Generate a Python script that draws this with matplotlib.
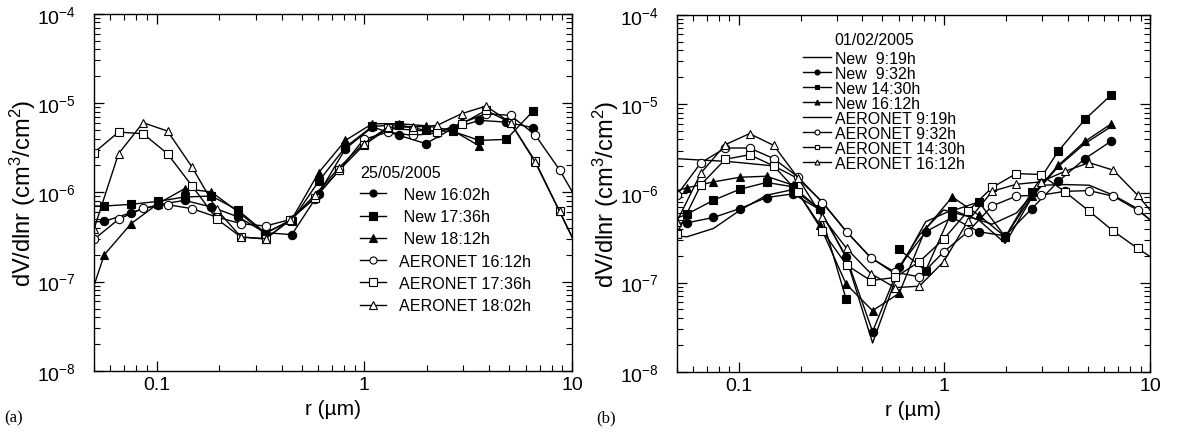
import numpy as np
import matplotlib
matplotlib.use("Agg")
import matplotlib.pyplot as plt
import matplotlib.ticker as mticker

plt.rcParams['font.family'] = ['Liberation Sans', 'DejaVu Sans']
plt.rcParams['mathtext.fontset'] = 'custom'
plt.rcParams['mathtext.rm'] = 'Liberation Sans'
plt.rcParams['mathtext.it'] = 'Liberation Sans:italic'
plt.rcParams['axes.unicode_minus'] = False

# radii (um)
r_aeronet = [0.05, 0.0656, 0.0861, 0.1129, 0.1482, 0.1944, 0.2551, 0.3347, 0.4392, 0.5763,
             0.7562, 0.9923, 1.302, 1.708, 2.241, 2.941, 3.859, 5.064, 6.644, 8.718, 11.44]
r_new = [0.042, 0.056, 0.0754, 0.1015, 0.1366, 0.1838, 0.2474, 0.333, 0.448, 0.603, 0.812,
         1.093, 1.471, 1.98, 2.666, 3.588, 4.83, 6.5]

# ---- panel (a) 25/05/2005 ----
a_new_1602 = [4.6e-7, 4.73e-7, 5.92e-7, 7.28e-7, 8.13e-7, 6.85e-7, 5.3e-7, 3.54e-7, 3.36e-7, 9.66e-7,
              3.08e-6, 5.38e-6, 4.35e-6, 3.51e-6, 5.2e-6, 6.4e-6, 6.12e-6, 5.3e-6]
a_new_1736 = [7.0e-7, 7.03e-7, 7.34e-7, 7.93e-7, 8.87e-7, 9.1e-7, 6.29e-7, 3.54e-7, 4.8e-7, 1.33e-6,
              3.21e-6, 5.48e-6, 5.71e-6, 4.94e-6, 4.82e-6, 3.82e-6, 3.92e-6, 8.13e-6]
a_new_1812 = [2.7e-8, 2.0e-7, 4.46e-7, 7.46e-7, 1.1e-6, 1.01e-6, 6.03e-7, 3.44e-7, 5.0e-7, 1.66e-6,
              3.82e-6, 5.87e-6, 5.87e-6, 5.57e-6, 4.94e-6, 3.30e-6, np.nan, np.nan]
a_aer_1612 = [2.98e-7, 4.99e-7, 6.68e-7, 7.28e-7, 6.57e-7, 5.3e-7, 4.46e-7, 4.2e-7, 4.95e-7, 8.5e-7,
              1.76e-6, 3.92e-6, 4.73e-6, 4.35e-6, 4.61e-6, 5.97e-6, 7.6e-6, 7.28e-6, 4.42e-6,
              1.79e-6, 6.0e-7]
a_aer_1736 = [2.78e-6, 4.73e-6, 4.54e-6, 2.71e-6, 1.18e-6, 5.07e-7, 3.16e-7, 3.0e-7, 4.9e-7, 8.7e-7,
              1.76e-6, 3.36e-6, 5.2e-6, 5.0e-6, 4.73e-6, 5.87e-6, 8.28e-6, 6.03e-6, 2.25e-6,
              6.13e-7, 1.7e-7]
a_aer_1802 = [3.9e-7, 2.71e-6, 6.03e-6, 4.86e-6, 1.92e-6, 6.46e-7, 3.16e-7, 3.03e-7, 4.86e-7, 9.25e-7,
              1.89e-6, 3.51e-6, 5.38e-6, 5.38e-6, 5.62e-6, 7.6e-6, 9.25e-6, 6.03e-6, 2.19e-6,
              6.13e-7, 1.66e-7]

# ---- panel (b) 01/02/2005 ----
b_new_0919 = [3.4e-7, 3.25e-7, 4.03e-7, 6.45e-7, 9.5e-7, 1.1e-6, 6.7e-7, 1.9e-7, 2.1e-8, 1.4e-7,
              4.8e-7, 6.5e-7, 5.0e-7, 2.74e-7, 9.0e-7, 2.0e-6, 3.6e-6, 5.6e-6]
b_new_0932 = [4.6e-7, 4.66e-7, 5.35e-7, 6.74e-7, 8.95e-7, 9.84e-7, 6.58e-7, 1.95e-7, 2.82e-8, 1.50e-7,
              3.70e-7, 5.35e-7, 3.70e-7, 3.33e-7, 6.74e-7, 1.36e-6, 2.44e-6, 3.85e-6]
b_new_1430 = [4.5e-7, 5.82e-7, 8.35e-7, 1.11e-6, 1.32e-6, 1.18e-6, 6.62e-7, 6.55e-8, np.nan, 2.35e-7,
              1.36e-7, 6.35e-7, 8.0e-7, 3.25e-7, 1.04e-6, 2.97e-6, 6.71e-6, 1.27e-5]
b_new_1612 = [9.5e-7, 1.15e-6, 1.34e-6, 1.51e-6, 1.55e-6, 1.23e-6, 4.46e-7, 9.6e-8, 4.84e-8, 7.57e-8,
              4.0e-7, 9.1e-7, 5.68e-7, 3.25e-7, 9.33e-7, 2.06e-6, 3.81e-6, 6.0e-6]
b_aer_0919 = [2.44e-6, 2.35e-6, 2.28e-6, 2.15e-6, 2.02e-6, 1.46e-6, 8.0e-7, 3.7e-7, 1.9e-7, 1.25e-7,
              3.4e-7, 6.5e-7, 5.5e-7, 4.5e-7, 6.0e-7, 1.23e-6, 1.25e-6, 1.23e-6, 9.5e-7, 6.7e-7, 3.8e-7]
b_aer_0932 = [9.5e-7, 2.2e-6, 3.21e-6, 3.21e-6, 2.44e-6, 1.52e-6, 7.87e-7, 3.7e-7, 1.89e-7, 1.3e-7,
              1.16e-7, 2.2e-7, 3.7e-7, 7.2e-7, 9.3e-7, 9.5e-7, 1.05e-6, 1.07e-6, 9.25e-7, 6.45e-7, 4.0e-7]
b_aer_1430 = [3.5e-7, 1.25e-6, 2.4e-6, 2.7e-6, 2.02e-6, 1.02e-6, 3.8e-7, 1.57e-7, 1.05e-7, 1.14e-7,
              1.71e-7, 3.06e-7, 6.3e-7, 1.16e-6, 1.66e-6, 1.62e-6, 1.04e-6, 6.3e-7, 3.76e-7, 2.41e-7, 1.6e-7]
b_aer_1612 = [4.8e-7, 1.69e-6, 3.5e-6, 4.65e-6, 3.43e-6, 1.48e-6, 5.45e-7, 2.41e-7, 1.26e-7, 8.75e-8,
              9.1e-8, 1.71e-7, 4.86e-7, 1.05e-6, 1.26e-6, 1.34e-6, 1.76e-6, 2.2e-6, 1.81e-6, 9.5e-7, 4.5e-7]


def setup(ax):
    ax.set_xscale('log')
    ax.set_yscale('log')
    ax.set_xlim(0.05, 10)
    ax.set_ylim(1e-8, 1e-4)
    ax.xaxis.set_major_formatter(mticker.FuncFormatter(lambda v, _: f'{v:g}'))
    ax.xaxis.set_minor_formatter(mticker.NullFormatter())
    ax.yaxis.set_major_locator(mticker.LogLocator(base=10, numticks=10))
    ax.yaxis.set_minor_locator(mticker.LogLocator(base=10, subs=np.arange(2, 10), numticks=20))
    ax.yaxis.set_minor_formatter(mticker.NullFormatter())
    ax.tick_params(which='both', direction='in', top=True, right=True, labelsize=14)
    ax.tick_params(which='major', length=7, width=0.9)
    ax.tick_params(which='minor', length=4, width=0.8)
    ax.tick_params(axis='y', which='major', pad=13)
    ax.tick_params(axis='x', which='major', pad=4)
    for s in ax.spines.values():
        s.set_linewidth(1.0)
    ax.set_xlabel('r (\u00b5m)', fontsize=15, labelpad=4)
    ax.set_ylabel('dV/dlnr (cm$^3$/cm$^2$)', fontsize=17, labelpad=-1)


def line(ax, x, y, marker=None, filled=True, label=None):
    ax.plot(x, y, color='black', lw=1.0, marker=marker, ms=6 if marker else 0,
            mfc='black' if filled else 'white', mec='black', mew=0.8, label=label)


fig = plt.figure(figsize=(11.77, 4.35), dpi=100)
ax1 = fig.add_axes([0.0799, 0.145, 0.406, 0.821])
ax2 = fig.add_axes([0.575, 0.143, 0.402, 0.821])

# (a)
line(ax1, r_new, a_new_1602, 'o', True, ' New 16:02h')
line(ax1, r_new, a_new_1736, 's', True, ' New 17:36h')
line(ax1, r_new, a_new_1812, '^', True, ' New 18:12h')
line(ax1, r_aeronet, a_aer_1612, 'o', False, 'AERONET 16:12h')
line(ax1, r_aeronet, a_aer_1736, 's', False, 'AERONET 17:36h')
line(ax1, r_aeronet, a_aer_1802, '^', False, 'AERONET 18:02h')
setup(ax1)
leg1 = ax1.legend(loc='upper left', bbox_to_anchor=(0.54, 0.6), frameon=False, title='25/05/2005',
                  fontsize=11.6, title_fontsize=11.6, handlelength=1.6, handletextpad=0.8,
                  labelspacing=0.45, borderpad=0, alignment='left', markerscale=0.85)

# (b)
line(ax2, r_new, b_new_0919, None, True, 'New  9:19h')
line(ax2, r_new, b_new_0932, 'o', True, 'New  9:32h')
line(ax2, r_new, b_new_1430, 's', True, 'New 14:30h')
line(ax2, r_new, b_new_1612, '^', True, 'New 16:12h')
line(ax2, r_aeronet, b_aer_0919, None, True, 'AERONET 9:19h')
line(ax2, r_aeronet, b_aer_0932, 'o', False, 'AERONET 9:32h')
line(ax2, r_aeronet, b_aer_1430, 's', False, 'AERONET 14:30h')
line(ax2, r_aeronet, b_aer_1612, '^', False, 'AERONET 16:12h')
setup(ax2)
leg2 = ax2.legend(loc='upper left', bbox_to_anchor=(0.249, 0.921), frameon=False,
                  fontsize=11.5, handlelength=1.8, handletextpad=0.2,
                  labelspacing=0.0, borderpad=0, markerscale=0.6)
ax2.text(0.334, 0.93, '01/02/2005', transform=ax2.transAxes, fontsize=11.5, va='center', ha='left')

fig.text(0.004, 0.03, '(a)', fontsize=12, family='Liberation Serif')
fig.text(0.507, 0.03, '(b)', fontsize=12, family='Liberation Serif')

fig.savefig('out.png', dpi=100)
